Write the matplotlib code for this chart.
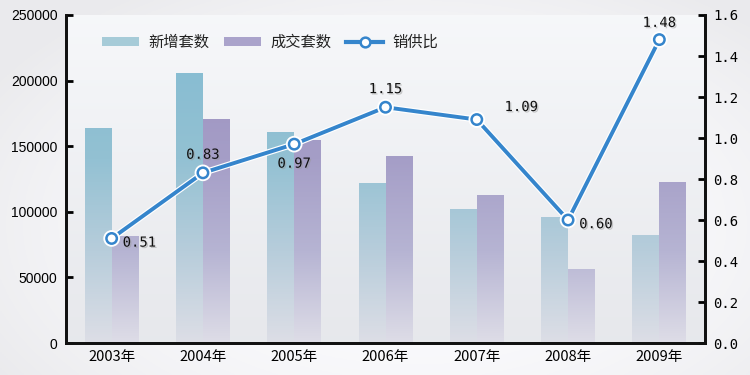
import numpy as np
import matplotlib
matplotlib.use("Agg")
import matplotlib.pyplot as plt
from matplotlib.patches import Patch
from matplotlib.lines import Line2D
from matplotlib.colors import LinearSegmentedColormap
import matplotlib.patheffects as pe

plt.rcParams['font.family'] = ['Noto Sans CJK SC', 'DejaVu Sans']

years = ['2003年', '2004年', '2005年', '2006年', '2007年', '2008年', '2009年']
new_units = [163500, 206000, 160500, 122000, 102000, 96000, 82000]
deal_units = [81500, 170500, 154500, 142500, 112500, 56500, 122500]
ratio = [0.51, 0.83, 0.97, 1.15, 1.09, 0.60, 1.48]
ratio_labels = ['0.51', '0.83', '0.97', '1.15', '1.09', '0.60', '1.48']
left_ticks = [0, 50000, 100000, 150000, 200000, 250000]
right_ticks = [0.0, 0.2, 0.4, 0.6, 0.8, 1.0, 1.2, 1.4, 1.6]
legend_names = ['新增套数', '成交套数', '销供比']

fig = plt.figure(figsize=(7.5, 3.75), dpi=100)

# figure background gradient
bg = fig.add_axes([0, 0, 1, 1], zorder=-10)
yy, xx = np.mgrid[0:1:200j, 0:1:400j]
val = 0.92 + 0.07 * (1 - np.clip(((xx - 0.55) / 0.65) ** 2 + ((yy - 0.6) / 0.75) ** 2, 0, 1))
bg.imshow(np.dstack([val, val, val + 0.01]).clip(0, 1), extent=[0, 1, 0, 1], aspect='auto')
bg.axis('off')

ax = fig.add_axes([0.088, 0.0853, 0.852, 0.8747])
ax.set_facecolor('#eeeff3')

# axes background gradient (lighter toward top)
g = np.linspace(0, 1, 100).reshape(-1, 1)
bgc = np.dstack([0.905 + 0.06 * g, 0.91 + 0.06 * g, 0.925 + 0.055 * g]) * np.ones((1, 50, 1))
ax.imshow(bgc, extent=[-0.5, len(years) - 0.5, 0, 250000], aspect='auto', origin='lower', zorder=0)

cm_new = LinearSegmentedColormap.from_list('n', ['#dddee6', '#b7cddb', '#93c1d3', '#88bdd2'])
cm_deal = LinearSegmentedColormap.from_list('d', ['#dedde7', '#b6b4d3', '#a59ec7', '#9f94c2'])
grad = np.linspace(0, 1, 256).reshape(-1, 1)

w = 0.295
x = np.arange(len(years))
for vals, off, cm in [(new_units, -w / 2, cm_new), (deal_units, w / 2, cm_deal)]:
    bars = ax.bar(x + off, vals, width=w, color='none', edgecolor='none', zorder=2)
    for b in bars:
        x0 = b.get_x()
        im = ax.imshow(grad, cmap=cm, extent=[x0, x0 + w, 0, 210000], origin='lower',
                       aspect='auto', zorder=2)
        im.set_clip_path(b)
ax.set_xlim(-0.5, len(years) - 0.5)
ax.set_ylim(0, 250000)

ax2 = ax.twinx()
ax2.set_ylim(0, 1.6)
line_color = '#3585cc'
ax2.plot(x, ratio, color=line_color, lw=2.8, marker='o', ms=7.5, mfc='white', mec=line_color,
         mew=1.8, zorder=5,
         path_effects=[pe.Stroke(linewidth=4.5, foreground='white'), pe.Normal()])

offsets = [(20, -3, 'center', 'center'), (0, 8, 'center', 'bottom'), (0, -9, 'center', 'top'),
           (0, 8, 'center', 'bottom'), (20, 9, 'left', 'center'), (8, -3, 'left', 'center'),
           (0, 7, 'center', 'bottom')]
for xi, yi, lab, (dx, dy, ha, va) in zip(x, ratio, ratio_labels, offsets):
    ax2.annotate(lab, (xi, yi), xytext=(dx, dy), textcoords='offset points', ha=ha, va=va,
                 fontsize=10, family='DejaVu Sans Mono', color='#111111', zorder=6,
                 path_effects=[pe.withSimplePatchShadow(offset=(1, -1), shadow_rgbFace='#999999', alpha=0.5)])

for a in (ax, ax2):
    a.spines['top'].set_visible(False)
    for s in ('left', 'right', 'bottom'):
        a.spines[s].set_linewidth(2)
        a.spines[s].set_color('#111111')

ax.set_xticks(x)
ax.set_xticklabels(years, fontsize=10.5)
ax.tick_params(axis='x', length=0, pad=5)
ax.set_yticks(left_ticks)
ax.set_yticklabels([str(v) for v in left_ticks], fontsize=10, family='Liberation Sans')
ax.tick_params(axis='y', direction='in', length=5, width=2, pad=6)
ax2.set_yticks(right_ticks)
ax2.set_yticklabels(['%.1f' % v for v in right_ticks], fontsize=10, family='DejaVu Sans Mono')
ax2.tick_params(axis='y', direction='in', length=5, width=2, pad=6)

handles = [Patch(facecolor='#a6cbd8', edgecolor='none'),
           Patch(facecolor='#aaa3cb', edgecolor='none'),
           Line2D([], [], color=line_color, lw=3, marker='o', ms=7, mfc='white', mec=line_color, mew=1.8)]
leg = ax.legend(handles, legend_names, ncol=3, loc='upper left', bbox_to_anchor=(0.035, 0.985),
                frameon=False, fontsize=11, handlelength=2.4, handleheight=0.55,
                columnspacing=1.0, handletextpad=0.6)
for t in leg.get_texts():
    t.set_color('#222222')

fig.savefig('out.png', dpi=100)
